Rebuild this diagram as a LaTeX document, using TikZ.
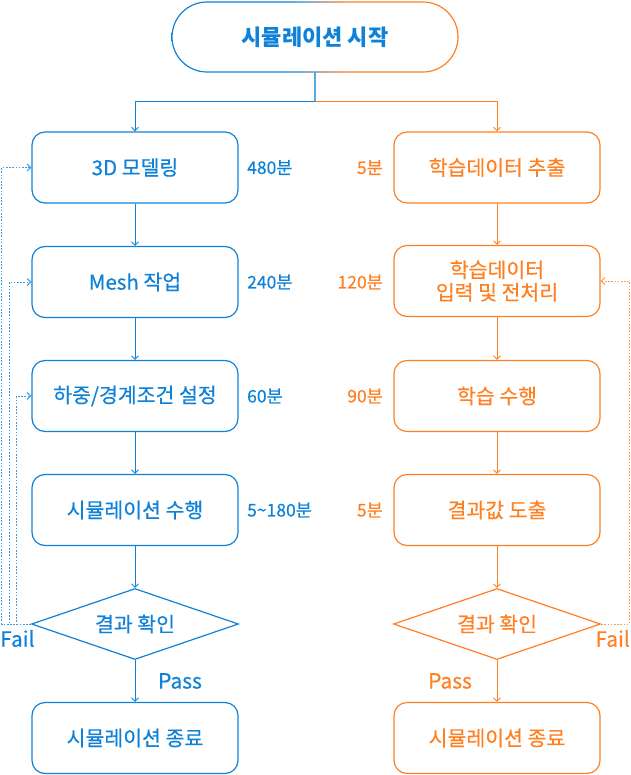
\documentclass[tikz,border=0pt]{standalone}
\usepackage{fontspec}
\setmainfont{Noto Sans CJK KR}
\newfontfamily\medfont{Noto Sans CJK KR}[FakeBold=0.5]
\usetikzlibrary{arrows.meta,shapes.geometric}
\definecolor{cblue}{HTML}{0F82D8}
\definecolor{corange}{HTML}{FF8022}
\definecolor{cstem}{HTML}{5AA8DF}
\pgfdeclarehorizontalshading{bo}{100bp}{color(0bp)=(cblue); color(46bp)=(cblue); color(56bp)=(corange); color(100bp)=(corange)}
\tikzset{
  box/.style={draw, rounded corners=13pt, line width=1.2pt, minimum width=206pt, minimum height=71pt, inner sep=0pt, align=center, font=\medfont\fontsize{20.5}{22.5}\selectfont},
  dec/.style={draw, diamond, aspect=2.93, line width=1.2pt, minimum width=207pt, minimum height=71pt, inner sep=0pt, font=\medfont\fontsize{20.5}{22.5}\selectfont},
  bx/.style={box, cblue, text=cblue},
  ox/.style={box, corange, text=corange},
  bd/.style={dec, cblue, text=cblue},
  od/.style={dec, corange, text=corange},
  lbl/.style={font=\medfont\fontsize{17.5}{20}\selectfont, inner sep=0pt},
  pf/.style={font=\medfont\fontsize{21}{24}\selectfont, inner sep=0pt},
  flow/.style={line width=0.9pt, -{Straight Barb[length=3.5pt,width=7pt]}},
  loop/.style={line width=1pt, dash pattern=on 1.6pt off 1.6pt, -{Straight Barb[length=3.5pt,width=7pt]}},
}
\begin{document}
\begin{tikzpicture}[x=1pt,y=-1pt]
\useasboundingbox (0,0) rectangle (630,775);
% start node
\node[minimum width=286pt, minimum height=70pt, inner sep=0pt, text=cblue, font=\fontsize{22}{26}\selectfont\bfseries] (start) at (315,37) {시뮬레이션 시작};
\shade[shading=bo, even odd rule]
  [rounded corners=35.6pt] (171.4,1.4) rectangle (458.6,72.6)
  [rounded corners=34.4pt] (172.6,2.6) rectangle (457.4,71.4);
% left column
\node[bx] (l1) at (135,167.5) {3D 모델링};
\node[bx] (l2) at (135,282) {Mesh 작업};
\node[bx] (l3) at (135,396) {하중/경계조건 설정};
\node[bx] (l4) at (135,510) {시뮬레이션 수행};
\node[bd] (ld) at (135,624) {결과 확인};
\node[bx] (le) at (135,738) {시뮬레이션 종료};
% right column
\node[ox] (r1) at (497,167.5) {학습데이터 추출};
\node[ox] (r2) at (497,281) {학습데이터\\입력 및 전처리};
\node[ox] (r3) at (497,396) {학습 수행};
\node[ox] (r4) at (497,510) {결과값 도출};
\node[od] (rd) at (497,624) {결과 확인};
\node[ox] (re) at (497,738) {시뮬레이션 종료};
% time labels
\node[lbl, cblue, anchor=west] (t1) at (247,167.5) {480분};
\node[lbl, cblue, anchor=west] (t2) at (247,282) {240분};
\node[lbl, cblue, anchor=west] (t3) at (247,396) {60분};
\node[lbl, cblue, anchor=west] (t4) at (247,510) {5\textasciitilde180분};
\node[lbl, corange, anchor=east] (s1) at (383,167.5) {5분};
\node[lbl, corange, anchor=east] (s2) at (383,282) {120분};
\node[lbl, corange, anchor=east] (s3) at (383,396) {90분};
\node[lbl, corange, anchor=east] (s4) at (383,510) {5분};
% pass/fail
\node[pf, cblue, anchor=west] (fl) at (0,638.5) {Fail};
\node[pf, corange, anchor=east] (fr) at (630,638.5) {Fail};
\node[pf, cblue] (pl) at (180,681) {Pass};
\node[pf, corange] (pr) at (450,681) {Pass};
% split
\coordinate (split) at (315,101);
\draw[cstem, line width=1.2pt] (start.south) -- (split);
\draw[flow, cblue] (split) -| (l1.north);
\draw[flow, corange] (split) -| (r1.north);
% left flow
\draw[flow, cblue] (l1) -- (l2);
\draw[flow, cblue] (l2) -- (l3);
\draw[flow, cblue] (l3) -- (l4);
\draw[flow, cblue] (l4) -- (ld);
\draw[flow, cblue] (ld) -- (le);
% right flow
\draw[flow, corange] (r1) -- (r2);
\draw[flow, corange] (r2) -- (r3);
\draw[flow, corange] (r3) -- (r4);
\draw[flow, corange] (r4) -- (rd);
\draw[flow, corange] (rd) -- (re);
% fail loops
\draw[loop, cblue!80] (ld.west) -- ++(-29,0) |- (l1.west);
\draw[loop, cblue!80] (ld.west) -- ++(-21.5,0) |- (l2.west);
\draw[loop, cblue!80] (ld.west) -- ++(-14,0) |- (l3.west);
\draw[loop, corange!80] (rd.east) -- ++(28,0) |- (r2.east);
\end{tikzpicture}
\end{document}
